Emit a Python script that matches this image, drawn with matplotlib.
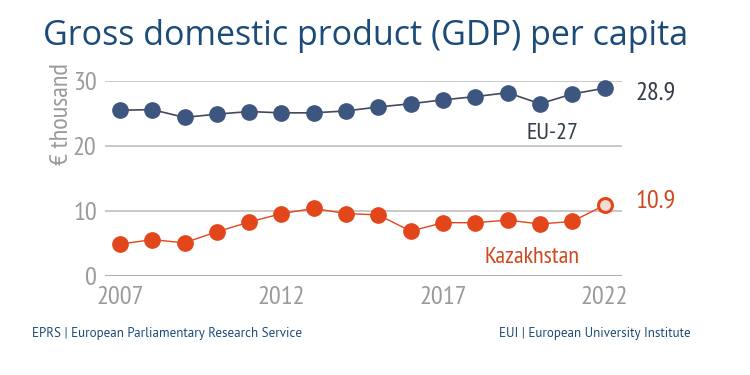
import matplotlib

matplotlib.use("Agg")
import matplotlib.pyplot as plt

years = list(range(2007, 2023))
eu27 = [25.5, 25.6, 24.4, 24.9, 25.3, 25.1, 25.1, 25.4, 26.0, 26.5, 27.1, 27.6, 28.2, 26.5, 28.0, 28.9]
kazakhstan = [4.9, 5.6, 5.1, 6.8, 8.3, 9.6, 10.4, 9.6, 9.4, 6.9, 8.2, 8.2, 8.6, 8.0, 8.4, 10.9]
yticks = [0, 10, 20, 30]
xticks = [2007, 2012, 2017, 2022]

BLUE = "#3d5680"
ORANGE = "#e2461a"
ORANGE_TXT = "#cf4a20"
TITLE = "#1b4b78"
GREY = "#9a9a9a"
DARK = "#333c48"
NARROW = ["PT Sans Narrow", "DejaVu Sans"]
REGULAR = ["PT Sans", "DejaVu Sans"]

fig = plt.figure(figsize=(7.5, 3.75), dpi=100)
ax = fig.add_axes([0.14, 0.264, 0.689, 0.52])

ax.plot(years, eu27, color="#44485a", lw=1.2, zorder=2)
ax.plot(years, eu27, "o", ms=11, color=BLUE, mec=BLUE, zorder=3, clip_on=False)
ax.plot(years, kazakhstan, color=ORANGE, lw=1.0, zorder=2)
ax.plot(years[:-1], kazakhstan[:-1], "o", ms=11, color=ORANGE, zorder=3, clip_on=False)
# 2022 is an estimate: hollow marker
ax.plot(years[-1:], kazakhstan[-1:], "o", ms=10, mfc="#f7dcd3", mec=ORANGE, mew=2.2,
        zorder=3, clip_on=False)

ax.set_xlim(2006.54, 2022.53)
ax.set_ylim(0, 30)
ax.set_yticks(yticks)
ax.set_xticks(xticks)
for y in yticks:
    ax.axhline(y, color="#c4c4c4" if y else "#a8a8a8", lw=1.3, zorder=1)
for s in ax.spines.values():
    s.set_visible(False)
ax.tick_params(length=0, colors=GREY, labelsize=19, pad=7)
ax.tick_params(axis="y", pad=6)
for lab in ax.get_xticklabels() + ax.get_yticklabels():
    lab.set_family(NARROW)
ax.set_ylabel("€ thousand", color=GREY, fontsize=19, family=NARROW, labelpad=2)
ax.yaxis.set_label_coords(-0.062, 0.83)

ax.text(2022.95, eu27[-1] - 0.7, f"{eu27[-1]:.1f}", color=DARK, fontsize=19, family=NARROW,
        va="center", ha="left")
ax.text(2022.95, kazakhstan[-1] + 0.7, f"{kazakhstan[-1]:.1f}", color=ORANGE_TXT, fontsize=19,
        family=NARROW, va="center", ha="left")
ax.text(2020.4, 21.9, "EU-27", color=DARK, fontsize=17.5, family=NARROW, ha="center", va="center")
ax.text(2019.75, 2.9, "Kazakhstan", color=ORANGE_TXT, fontsize=17.5, family=NARROW,
        ha="center", va="center")

fig.text(0.057, 0.903, "Gross domestic product (GDP) per capita", color=TITLE,
         fontsize=24.5, family=["Open Sans", "DejaVu Sans"], va="center", ha="left")
fig.text(0.043, 0.112, "EPRS | European Parliamentary Research Service", color=TITLE,
         fontsize=9.4, family=REGULAR, va="center", ha="left")
fig.text(0.665, 0.112, "EUI | European University Institute", color=TITLE,
         fontsize=9.4, family=REGULAR, va="center", ha="left")

fig.savefig("out.png", dpi=100)
